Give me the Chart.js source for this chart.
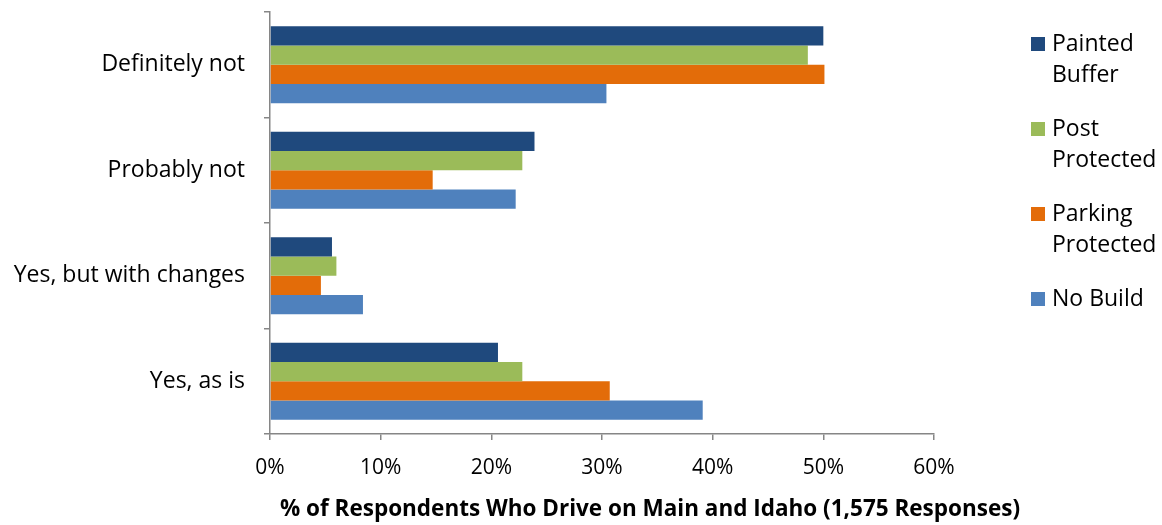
<!DOCTYPE html>
<html>
<head>
<meta charset="utf-8">
<script src="https://cdn.jsdelivr.net/npm/chart.js@4"></script>
<style>
    html, body { margin: 0; padding: 0; background: #fff; }
    #wrap { width: 1162px; height: 525px; }
</style>
</head>
<body>
<div id="wrap"><canvas id="driveChart" width="1162" height="525"></canvas></div>
<script>
// Categorías y valores (% de respuestas)
const categories = ['Definitely not', 'Probably not', 'Yes, but with changes', 'Yes, as is'];
const seriesNames = [['Painted', 'Buffer'], ['Post', 'Protected'], ['Parking', 'Protected'], ['No Build']];
const paintedBuffer = [50.0, 23.9, 5.6, 20.6];
const postProtected = [48.6, 22.8, 6.0, 22.8];
const parkingProtected = [50.1, 14.7, 4.6, 30.7];
const noBuild = [30.4, 22.2, 8.4, 39.1];
const xTicks = [0, 10, 20, 30, 40, 50, 60];
const axisTitle = '% of Respondents Who Drive on Main and Idaho (1,575 Responses)';

const colors = ['#1F497D', '#9BBB59', '#E36C09', '#4F81BD'];
const fontFamily = '"Open Sans", sans-serif';

document.addEventListener('DOMContentLoaded', () => {
    const ctx = document.getElementById('driveChart').getContext('2d');

    // Leyenda y título del eje dibujados a mano (la leyenda va en dos líneas
    // y el título no está centrado sobre el eje en el original)
    const sideLegend = {
        id: 'sideLegend',
        afterDraw(chart) {
            const c = chart.ctx;
            c.save();
            c.font = '23px ' + fontFamily;
            c.textBaseline = 'middle';
            let y = 44;
            chart.data.datasets.forEach((ds, i) => {
                c.fillStyle = ds.backgroundColor;
                c.fillRect(1031, y - 7, 14, 14);
                c.fillStyle = '#000';
                seriesNames[i].forEach((line, j) => {
                    c.fillText(line, 1052, y + j * 31);
                });
                y += 85;
            });

            c.font = 'bold 22.5px ' + fontFamily;
            c.textAlign = 'center';
            c.fillText(axisTitle, 650, 510);
            c.restore();
        }
    };

    const datasets = [paintedBuffer, postProtected, parkingProtected, noBuild].map((data, i) => ({
        label: seriesNames[i].join(' '),
        data: data,
        backgroundColor: colors[i],
        borderWidth: 0,
        categoryPercentage: 0.73,
        barPercentage: 1.0
    }));

    new Chart(ctx, {
        type: 'bar',
        data: { labels: categories, datasets: datasets },
        options: {
            indexAxis: 'y',
            responsive: false,
            animation: false,
            layout: { padding: { top: 12, right: 228, left: 0, bottom: 0 } },
            plugins: {
                legend: { display: false },
                tooltip: { enabled: false }
            },
            scales: {
                x: {
                    min: 0,
                    max: 60,
                    afterBuildTicks: axis => { axis.ticks = xTicks.map(v => ({ value: v })); },
                    afterFit: axis => {
                        axis.height = 91;
                        axis.paddingLeft = 0;
                        axis.paddingRight = 0;
                    },
                    border: { color: '#868686', width: 1.5 },
                    grid: { drawOnChartArea: false, tickLength: 6, color: '#868686', lineWidth: 1.5 },
                    ticks: {
                        color: '#000',
                        font: { family: fontFamily, size: 21 },
                        padding: 15,
                        callback: v => v + '%'
                    }
                },
                y: {
                    afterFit: axis => {
                        axis.width = 270;
                        axis.paddingTop = 0;
                        axis.paddingBottom = 0;
                    },
                    border: { color: '#868686', width: 1.5 },
                    grid: { drawOnChartArea: false, tickLength: 6, color: '#868686', lineWidth: 1.5, offset: true },
                    ticks: {
                        color: '#000',
                        font: { family: fontFamily, size: 23 },
                        padding: 19
                    }
                }
            }
        },
        plugins: [sideLegend]
    });
});
</script>
</body>
</html>
